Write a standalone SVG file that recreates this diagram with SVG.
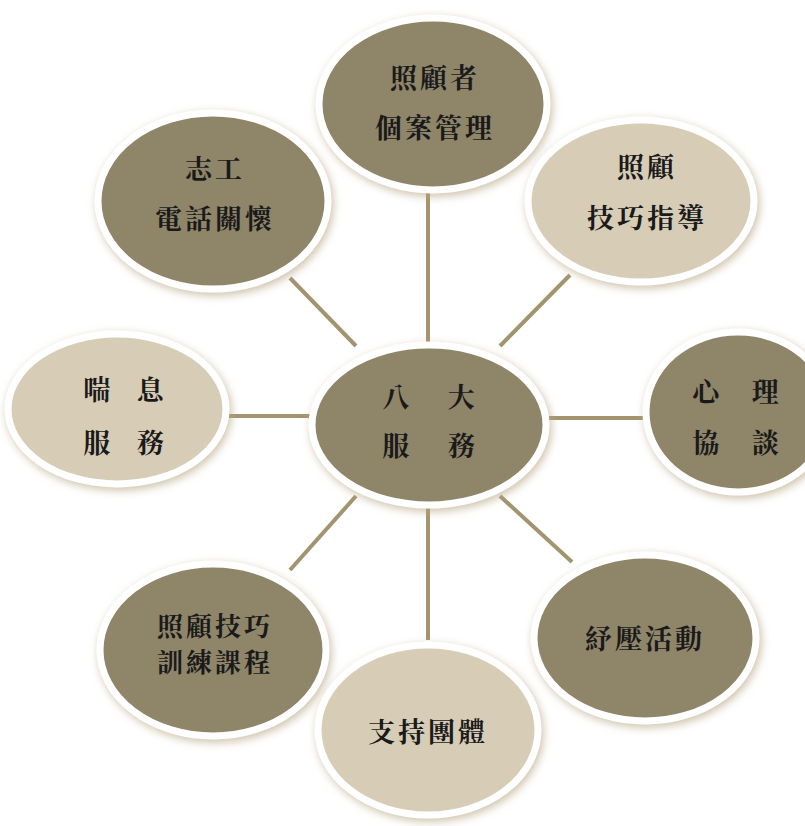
<svg xmlns="http://www.w3.org/2000/svg" width="805" height="826" viewBox="0 0 805 826">
<defs>
<filter id="sh" x="-20%" y="-20%" width="140%" height="140%">
<feGaussianBlur in="SourceAlpha" stdDeviation="4"/>
<feOffset dx="2" dy="3" result="b"/>
<feFlood flood-color="#b9a784" flood-opacity="0.7"/>
<feComposite in2="b" operator="in" result="s"/>
<feMerge><feMergeNode in="s"/><feMergeNode in="SourceGraphic"/></feMerge>
</filter>
</defs>
<style>
.dark{fill:#8f8569;stroke:#ffffff;stroke-width:7;filter:url(#sh)}
.light{fill:#d7cdb7;stroke:#ffffff;stroke-width:7;filter:url(#sh)}
.t{font-family:"Noto Serif CJK TC","Noto Sans CJK TC",serif;font-weight:bold;font-size:27px;letter-spacing:3px;fill:#1a1a1a;text-anchor:middle}
.c line{stroke:#a3946f;stroke-width:4}
</style>
<rect width="805" height="826" fill="#ffffff"/>
<g id="connectors" class="c">
<line x1="428" y1="190" x2="428" y2="345"/>
<line x1="290" y1="278" x2="356" y2="346"/>
<line x1="570" y1="275" x2="500" y2="346"/>
<line x1="228" y1="416" x2="313" y2="416"/>
<line x1="545" y1="418" x2="648" y2="418"/>
<line x1="290" y1="570" x2="356" y2="496"/>
<line x1="428" y1="505" x2="428" y2="640"/>
<line x1="500" y1="496" x2="572" y2="562"/>
</g>
<g id="n-top"><ellipse class="dark" cx="433" cy="104" rx="114" ry="86"/>
<text class="t" x="435" y="88">照顧者</text><text class="t" x="435" y="138">個案管理</text></g>
<g id="n-topleft"><ellipse class="dark" cx="213" cy="201" rx="115" ry="88"/>
<text class="t" x="215" y="179">志工</text><text class="t" x="215" y="229">電話關懷</text></g>
<g id="n-topright"><ellipse class="light" cx="641" cy="201" rx="113" ry="81"/>
<text class="t" x="647" y="177">照顧</text><text class="t" x="647" y="228">技巧指導</text></g>
<g id="n-left"><ellipse class="light" cx="117" cy="409" rx="109" ry="75"/>
<text class="t" x="125" y="400" style="word-spacing:14px">喘 息</text><text class="t" x="125" y="453" style="word-spacing:14px">服 務</text></g>
<g id="n-center"><ellipse class="dark" cx="429" cy="425" rx="117" ry="80"/>
<text class="t" x="430" y="407" style="word-spacing:26px">八 大</text><text class="t" x="430" y="456" style="word-spacing:26px">服 務</text></g>
<g id="n-right"><ellipse class="dark" cx="738" cy="412" rx="92" ry="80"/>
<text class="t" x="737" y="402" style="word-spacing:20px">心 理</text><text class="t" x="737" y="453" style="word-spacing:20px">協 談</text></g>
<g id="n-bottomleft"><ellipse class="dark" cx="213" cy="650" rx="113" ry="86"/>
<text class="t" x="215" y="636" style="font-size:26px">照顧技巧</text><text class="t" x="215" y="672" style="font-size:26px">訓練課程</text></g>
<g id="n-bottom"><ellipse class="light" cx="428" cy="730" rx="110" ry="85"/>
<text class="t" x="428" y="742">支持團體</text></g>
<g id="n-bottomright"><ellipse class="dark" cx="645" cy="638" rx="111" ry="83"/>
<text class="t" x="645" y="649">紓壓活動</text></g>
</svg>
